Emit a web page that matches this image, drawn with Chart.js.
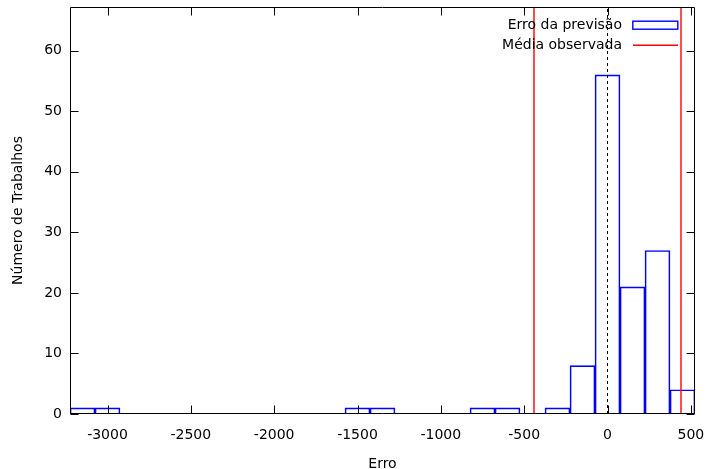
<!DOCTYPE html>
<html>
<head>
<meta charset="utf-8">
<script src="https://cdn.jsdelivr.net/npm/chart.js@4/dist/chart.umd.min.js"></script>
<style>
  html, body { margin: 0; padding: 0; background: #fff; }
  #wrap { width: 708px; height: 469px; }
</style>
</head>
<body>
<div id="wrap"><canvas id="chart-hist"></canvas></div>
<script>
// histograma: centro de cada classe (largura 150) e contagem
const binCenters = [-3150, -3000, -1500, -1350, -750, -600, -300, -150, 0, 150, 300, 450];
const binCounts  = [1, 1, 1, 1, 1, 1, 1, 8, 56, 21, 27, 4];
const meanLines  = [-441, 441];
const zeroLine   = 0;
const xTicks = [-3000, -2500, -2000, -1500, -1000, -500, 0, 500];
const yTicks = [0, 10, 20, 30, 40, 50, 60];
const xMin = -3225, xMax = 525;
const yMin = 0, yMax = 67.2;

const FONT = "'DejaVu Sans', sans-serif";
Chart.defaults.font.family = FONT;
Chart.defaults.font.size = 14;
Chart.defaults.color = '#000';

const vline = (x, label, color, width, dash, showInLegend) => ({
  type: 'line',
  label,
  data: [{ x, y: yMin }, { x, y: yMax }],
  borderColor: color,
  borderWidth: width,
  borderDash: dash,
  pointRadius: 0,
  fill: false,
  order: 1,
  showInLegend
});

// sem folga extra das escalas; a área fica só com o layout.padding
const noPad = s => { s.paddingTop = 0; s.paddingBottom = 0; s.paddingLeft = 0; s.paddingRight = 0; };

// ticks para dentro + moldura (estilo gnuplot)
const innerTicks = {
  id: 'innerTicks',
  afterDraw(chart) {
    const { ctx, chartArea: a, scales: { x, y } } = chart;
    const L = Math.round(a.left) + 0.5, R = Math.round(a.right) - 0.5;
    const T = Math.round(a.top) + 0.5, B = Math.round(a.bottom) - 0.5;
    ctx.save();
    ctx.strokeStyle = '#000';
    ctx.lineWidth = 1;
    ctx.beginPath();
    ctx.rect(L, T, R - L, B - T);
    xTicks.forEach(v => {
      const px = Math.round(x.getPixelForValue(v)) + 0.5;
      ctx.moveTo(px, B); ctx.lineTo(px, B - 8);
      ctx.moveTo(px, T); ctx.lineTo(px, T + 8);
    });
    yTicks.forEach(v => {
      const py = Math.round(y.getPixelForValue(v)) + 0.5;
      ctx.moveTo(L, py); ctx.lineTo(L + 8, py);
      ctx.moveTo(R, py); ctx.lineTo(R - 8, py);
    });
    ctx.stroke();
    ctx.restore();
  }
};

// legenda no canto superior direito, dentro da área
const insideLegend = {
  id: 'insideLegend',
  afterDraw(chart) {
    const { ctx, chartArea: a } = chart;
    const items = chart.data.datasets.filter(d => d.showInLegend);
    ctx.save();
    ctx.font = '14px ' + FONT;
    ctx.textAlign = 'right';
    ctx.textBaseline = 'middle';
    items.forEach((d, i) => {
      const yy = Math.round(a.top + 18 + i * 20);
      ctx.fillStyle = '#000';
      ctx.fillText(d.label, a.right - 73, yy);
      ctx.lineWidth = 1.4;
      ctx.strokeStyle = d.borderColor;
      if (d.type === 'line') {
        ctx.beginPath();
        ctx.moveTo(a.right - 62, yy + 0.2);
        ctx.lineTo(a.right - 17, yy + 0.2);
        ctx.stroke();
      } else {
        ctx.strokeRect(a.right - 62.2, yy - 3.8, 45, 8);
      }
    });
    ctx.restore();
  }
};

new Chart(document.getElementById('chart-hist'), {
  type: 'bar',
  data: {
    datasets: [
      {
        type: 'bar',
        label: 'Erro da previsão',
        data: binCenters.map((c, i) => ({ x: c, y: binCounts[i] })),
        backgroundColor: 'rgba(0,0,0,0)',
        borderColor: '#0000ff',
        borderWidth: 1,
        barPercentage: 1,
        categoryPercentage: 1,
        order: 2,
        showInLegend: true
      },
      vline(meanLines[0], 'Média observada', '#ff0000', 1.4, [], true),
      vline(meanLines[1], 'Média observada', '#ff0000', 1.4, [], false),
      vline(zeroLine, 'zero', '#000', 1, [3, 3], false)
    ]
  },
  options: {
    responsive: true, maintainAspectRatio: false,
    animation: false,
    layout: { padding: { top: 7, right: 13, left: 0, bottom: 0 } },
    plugins: { legend: { display: false }, tooltip: { enabled: false } },
    scales: {
      x: {
        type: 'linear',
        min: xMin, max: xMax,
        offset: false,
        grid: { display: false, drawTicks: false, offset: false },
        border: { display: false },
        afterBuildTicks: s => { s.ticks = xTicks.map(v => ({ value: v })); },
        afterFit: s => { s.height = 55; noPad(s); },
        ticks: { padding: 13, color: '#000', callback: v => v },
        title: { display: true, text: 'Erro', color: '#000', padding: { top: 0, bottom: -4 } }
      },
      y: {
        min: yMin, max: yMax,
        grid: { display: false, drawTicks: false },
        border: { display: false },
        afterBuildTicks: s => { s.ticks = yTicks.map(v => ({ value: v })); },
        afterFit: s => { s.width = 70; noPad(s); },
        ticks: { padding: 8, color: '#000' },
        title: { display: true, text: 'Número de Trabalhos', color: '#000', padding: { top: 10, bottom: 0 } }
      }
    }
  },
  plugins: [innerTicks, insideLegend]
});
</script>
</body>
</html>
